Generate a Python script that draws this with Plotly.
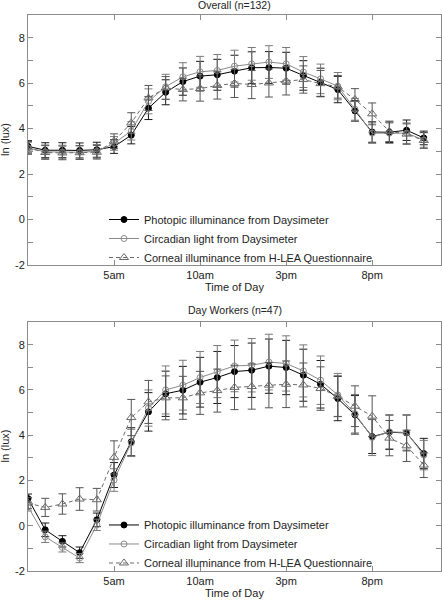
import plotly.graph_objects as go

hours = list(range(24))

# ---- Overall (n=132)
ov_photopic = [3.22, 3.05, 3.05, 3.04, 3.07, 3.21, 3.71, 4.90, 5.60, 6.07, 6.31, 6.37, 6.53, 6.68,
               6.69, 6.66, 6.34, 6.04, 5.72, 4.78, 3.85, 3.84, 3.93, 3.59]
ov_photopic_err = [0.25, 0.33, 0.33, 0.33, 0.33, 0.30, 0.38, 0.50, 0.55, 0.60, 0.65, 0.68, 0.70, 0.70,
                   0.70, 0.70, 0.65, 0.62, 0.58, 0.45, 0.45, 0.45, 0.45, 0.30]
ov_circadian = [3.15, 2.98, 2.97, 2.96, 3.00, 3.35, 3.90, 5.20, 5.84, 6.28, 6.50, 6.56, 6.75, 6.85,
                6.93, 6.85, 6.49, 6.19, 5.87, 4.85, 3.80, 3.80, 3.80, 3.50]
ov_circadian_err = [0.25, 0.30, 0.30, 0.30, 0.30, 0.30, 0.40, 0.55, 0.55, 0.62, 0.68, 0.70, 0.70, 0.72,
                    0.72, 0.72, 0.68, 0.65, 0.60, 0.48, 0.45, 0.45, 0.45, 0.32]
ov_corneal = [3.15, 2.95, 2.93, 2.94, 2.96, 3.45, 4.25, 5.35, 5.79, 5.72, 5.76, 5.90, 5.99, 5.94,
              6.01, 6.10, 6.16, 5.98, 5.84, 5.28, 4.65, 3.88, 3.76, 3.48]
ov_corneal_err = [0.28, 0.30, 0.30, 0.30, 0.30, 0.32, 0.45, 0.55, 0.50, 0.50, 0.55, 0.60, 0.62, 0.62,
                  0.62, 0.62, 0.60, 0.58, 0.50, 0.48, 0.48, 0.45, 0.45, 0.35]

# ---- Day Workers (n=47)
dw_photopic = [1.20, -0.18, -0.69, -1.19, 0.26, 2.24, 3.71, 5.03, 5.83, 5.99, 6.34, 6.55, 6.81, 6.87,
               7.05, 6.99, 6.65, 6.25, 5.62, 4.90, 3.94, 4.13, 4.10, 3.19]
dw_photopic_err = [0.20, 0.30, 0.25, 0.25, 0.30, 0.55, 0.62, 0.85, 1.00, 1.05, 1.10, 1.15, 1.15, 1.20,
                   1.20, 1.20, 1.15, 1.05, 0.98, 0.85, 0.75, 0.76, 0.79, 0.67]
dw_circadian = [0.85, -0.49, -0.96, -1.43, 0.04, 2.02, 3.66, 5.20, 6.00, 6.21, 6.55, 6.81, 7.06, 7.09,
                7.23, 7.17, 6.84, 6.43, 5.78, 4.95, 3.90, 4.15, 4.12, 3.12]
dw_circadian_err = [0.20, 0.25, 0.20, 0.20, 0.25, 0.50, 0.60, 0.80, 1.06, 1.10, 1.15, 1.15, 1.14, 1.18,
                    1.23, 1.22, 1.15, 1.07, 0.95, 0.85, 0.80, 0.75, 0.78, 0.65]
dw_corneal = [1.00, 0.81, 0.96, 1.18, 1.15, 3.02, 4.78, 5.47, 5.65, 5.65, 5.87, 5.97, 6.11, 6.15,
              6.21, 6.25, 6.22, 6.06, 5.72, 5.28, 4.84, 3.87, 3.53, 2.68]
dw_corneal_err = [0.25, 0.40, 0.45, 0.50, 0.50, 0.73, 0.80, 0.95, 0.97, 0.95, 0.95, 0.95, 0.98, 1.00,
                  1.00, 1.03, 0.97, 0.96, 0.90, 0.90, 0.90, 0.78, 0.69, 0.55]

series_names = ["Photopic illuminance from Daysimeter",
                "Circadian light from Daysimeter",
                "Corneal illuminance from H-LEA Questionnaire"]
x_tickvals = [5, 10, 15, 20]
x_ticktext = ["5am", "10am", "3pm", "8pm"]
y_tickvals = list(range(-2, 9))
y_ticktext = [str(v) if v % 2 == 0 else "" for v in y_tickvals]
titles = ["Overall (n=132)", "Day Workers (n=47)"]

FONT = "Liberation Sans, Arial, sans-serif"
styles = [
    dict(line=dict(color="black", width=1),
         marker=dict(symbol="circle", size=6, color="black", line=dict(color="black", width=1)),
         ecolor="#1a1a1a"),
    dict(line=dict(color="#8a8a8a", width=1),
         marker=dict(symbol="circle-open", size=6, color="#8a8a8a", line=dict(width=1)),
         ecolor="#7a7a7a"),
    dict(line=dict(color="#6a6a6a", width=1, dash="4px,3px"),
         marker=dict(symbol="triangle-up-open", size=8, color="#6a6a6a", line=dict(width=1)),
         ecolor="#555555"),
]

fig = go.Figure()
panels = [
    ("x", "y", "legend", [(ov_photopic, ov_photopic_err), (ov_circadian, ov_circadian_err),
                          (ov_corneal, ov_corneal_err)]),
    ("x2", "y2", "legend2", [(dw_photopic, dw_photopic_err), (dw_circadian, dw_circadian_err),
                             (dw_corneal, dw_corneal_err)]),
]
for xa, ya, leg, data in panels:
    for i, (vals, errs) in enumerate(data):
        st = styles[i]
        fig.add_trace(go.Scatter(
            x=hours, y=vals, mode="lines+markers", name=series_names[i],
            xaxis=xa, yaxis=ya, legend=leg,
            line=st["line"], marker=st["marker"],
            error_y=dict(type="data", array=errs, visible=True, color=st["ecolor"],
                         thickness=1, width=4),
        ))

axis_common = dict(showline=True, linecolor="#8c8c8c", linewidth=1, mirror="allticks",
                   ticks="inside", ticklen=5, tickcolor="#8c8c8c", showgrid=False,
                   zeroline=False, tickfont=dict(family=FONT, size=11, color="#222"))

top_dom = [0.5504, 1.0]
bot_dom = [0.0, 0.4478]

fig.update_layout(
    width=443, height=600,
    margin=dict(l=28, r=2, t=15, b=29),
    paper_bgcolor="white", plot_bgcolor="white",
    font=dict(family=FONT, size=11, color="#222"),
    xaxis=dict(axis_common, domain=[0, 1], range=[0, 24], tickvals=x_tickvals,
               ticktext=x_ticktext, anchor="y"),
    yaxis=dict(axis_common, domain=top_dom, range=[-2, 9], tickvals=y_tickvals,
               ticktext=y_ticktext, anchor="x"),
    xaxis2=dict(axis_common, domain=[0, 1], range=[0, 24], tickvals=x_tickvals,
                ticktext=x_ticktext, anchor="y2"),
    yaxis2=dict(axis_common, domain=bot_dom, range=[-2, 9], tickvals=y_tickvals,
                ticktext=y_ticktext, anchor="x2"),
    legend=dict(x=0.184, y=0.598, xanchor="left", yanchor="middle", bgcolor="rgba(0,0,0,0)",
                borderwidth=0, font=dict(family=FONT, size=11, color="#222"), itemwidth=30,
                tracegroupgap=0),
    legend2=dict(x=0.184, y=0.0486, xanchor="left", yanchor="middle", bgcolor="rgba(0,0,0,0)",
                 borderwidth=0, font=dict(family=FONT, size=11, color="#222"), itemwidth=30,
                 tracegroupgap=0),
)

H = 556.0
ann = []
ann.append(dict(text=titles[0], x=0.5, y=1 + 10 / H, xref="paper", yref="paper",
                showarrow=False, font=dict(size=10.5, family=FONT, color="#222"),
                xanchor="center", yanchor="middle"))
ann.append(dict(text=titles[1], x=0.5, y=bot_dom[1] + 12 / H, xref="paper", yref="paper",
                showarrow=False, font=dict(size=10.5, family=FONT, color="#222"),
                xanchor="center", yanchor="middle"))
ann.append(dict(text="Time of Day", x=0.5, y=top_dom[0] - 22 / H, xref="paper", yref="paper",
                showarrow=False, font=dict(size=11, family=FONT, color="#222"),
                xanchor="center", yanchor="middle"))
ann.append(dict(text="Time of Day", x=0.5, y=bot_dom[0] - 22 / H, xref="paper", yref="paper",
                showarrow=False, font=dict(size=11, family=FONT, color="#222"),
                xanchor="center", yanchor="middle"))
for dom in (top_dom, bot_dom):
    ann.append(dict(text="ln (lux)", x=-23 / 413, y=(dom[0] + dom[1]) / 2, xref="paper",
                    yref="paper", showarrow=False, textangle=-90,
                    font=dict(size=11, family=FONT, color="#222"),
                    xanchor="center", yanchor="middle"))
fig.update_layout(annotations=ann)

fig.write_html("out.html", config={"displayModeBar": False},
               post_script="document.body.style.margin='0';document.body.style.overflow='hidden';")
